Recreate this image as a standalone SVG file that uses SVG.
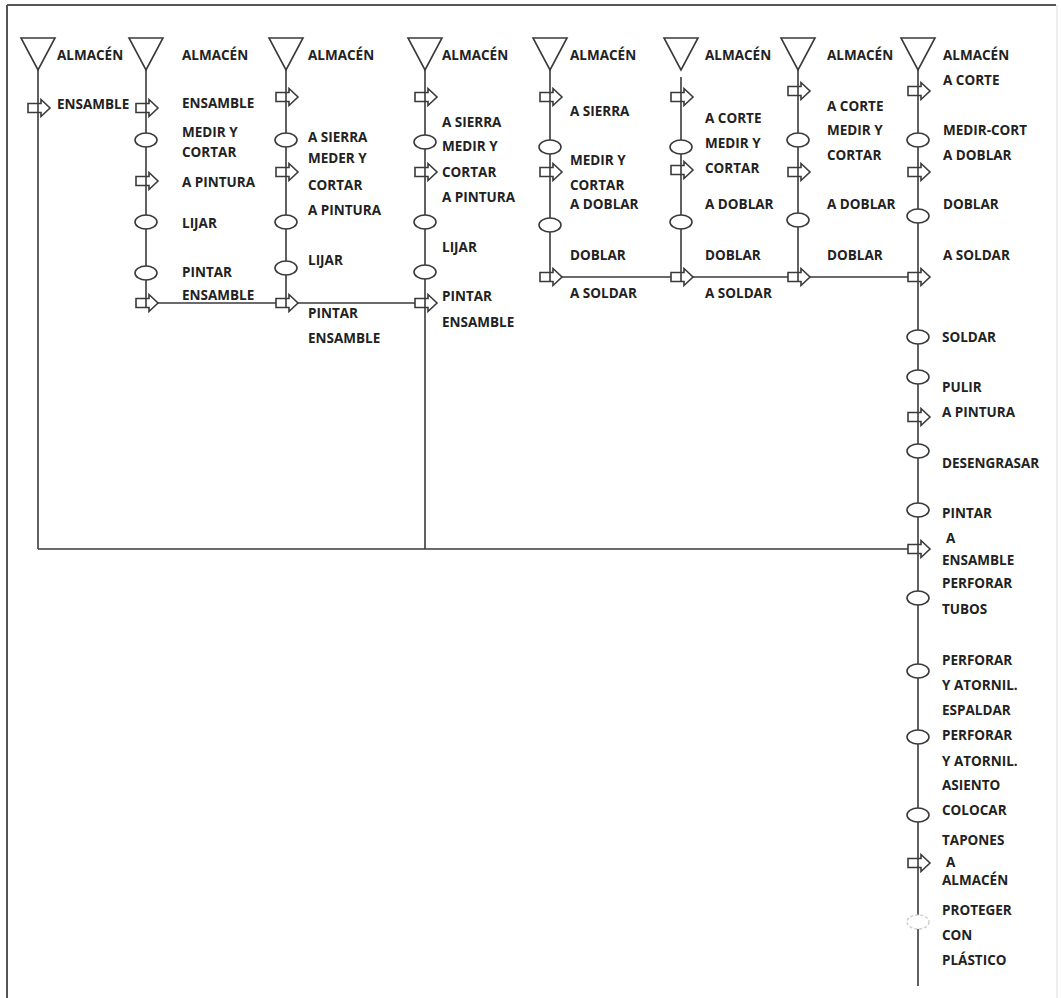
<svg xmlns="http://www.w3.org/2000/svg" width="1061" height="998" viewBox="0 0 1061 998">
  <defs>
    <style>
      .ln { stroke: #3a3a3a; stroke-width: 1.6; fill: none; }
      .sh { stroke: #3a3a3a; stroke-width: 1.6; fill: #fff; }
      .op { stroke: #3a3a3a; stroke-width: 1.6; fill: none; }
      .t { font-family: "Open Sans", "DejaVu Sans", sans-serif; font-weight: 700; font-size: 13.5px; fill: #222; }
    </style>
    <!-- storage: inverted triangle, apex at origin -->
    <path id="store" d="M-17,-32 H17 L0,0 Z"/>
    <!-- transport: block arrow centred on the flow line -->
    <path id="move" d="M-10,-4.5 H3 V-8.5 L12,0 L3,8.5 V4.5 H-10 Z"/>
    <!-- operation -->
    <ellipse id="op" cx="0" cy="0" rx="11" ry="7"/>
  </defs>

  <rect width="1061" height="998" fill="#fff"/>

  <!-- frame -->
  <g id="frame">
    <line x1="7" y1="5" x2="1056" y2="5" stroke="#555" stroke-width="2"/>
    <line x1="7" y1="5" x2="7" y2="998" stroke="#555" stroke-width="2"/>
    <line x1="1057" y1="5" x2="1057" y2="998" stroke="#ddd" stroke-width="1"/>
  </g>

  <!-- flow lines -->
  <g id="connectors" class="ln">
    <!-- verticals -->
    <line x1="38" y1="70" x2="38" y2="549"/>
    <line x1="146" y1="70" x2="146" y2="308"/>
    <line x1="286" y1="70" x2="286" y2="308"/>
    <line x1="425" y1="70" x2="425" y2="549"/>
    <line x1="550" y1="70" x2="550" y2="282"/>
    <line x1="681" y1="77" x2="681" y2="282"/>
    <line x1="798" y1="70" x2="798" y2="282"/>
    <line x1="918" y1="70" x2="918" y2="986"/>
    <!-- joins -->
    <line x1="158" y1="303" x2="276" y2="303"/>
    <line x1="298" y1="303" x2="415" y2="303"/>
    <line x1="562" y1="277" x2="671" y2="277"/>
    <line x1="693" y1="277" x2="788" y2="277"/>
    <line x1="810" y1="277" x2="908" y2="277"/>
    <line x1="38" y1="549" x2="908" y2="549"/>
  </g>

  <!-- column 1 -->
  <g id="col1">
    <g id="c1-store"><use href="#store" x="38" y="70" class="sh"/><text class="t" x="57" y="60">ALMACÉN</text></g>
    <g id="c1-m1"><use href="#move" x="38" y="108" class="op"/><text class="t" x="57" y="109">ENSAMBLE</text></g>
  </g>

  <!-- column 2 -->
  <g id="col2">
    <g id="c2-store"><use href="#store" x="146" y="70" class="sh"/><text class="t" x="182" y="60">ALMACÉN</text></g>
    <g id="c2-m1"><use href="#move" x="146" y="108" class="op"/><text class="t" x="182" y="108">ENSAMBLE</text></g>
    <g id="c2-o1"><use href="#op" x="146" y="140" class="sh"/><text class="t" x="182" y="137">MEDIR Y</text><text class="t" x="182" y="157">CORTAR</text></g>
    <g id="c2-m2"><use href="#move" x="146" y="181" class="op"/><text class="t" x="182" y="187">A PINTURA</text></g>
    <g id="c2-o2"><use href="#op" x="146" y="222" class="sh"/><text class="t" x="182" y="228">LIJAR</text></g>
    <g id="c2-o3"><use href="#op" x="146" y="273" class="sh"/><text class="t" x="182" y="277">PINTAR</text></g>
    <g id="c2-m3"><use href="#move" x="146" y="303" class="op"/><text class="t" x="182" y="300">ENSAMBLE</text></g>
  </g>

  <!-- column 3 -->
  <g id="col3">
    <g id="c3-store"><use href="#store" x="286" y="70" class="sh"/><text class="t" x="308" y="60">ALMACÉN</text></g>
    <g id="c3-m1"><use href="#move" x="286" y="97" class="op"/></g>
    <g id="c3-o1"><use href="#op" x="286" y="140" class="sh"/><text class="t" x="308" y="142">A SIERRA</text><text class="t" x="308" y="163">MEDER Y</text></g>
    <g id="c3-m2"><use href="#move" x="286" y="172" class="op"/><text class="t" x="308" y="190">CORTAR</text><text class="t" x="308" y="215">A PINTURA</text></g>
    <g id="c3-o2"><use href="#op" x="286" y="222" class="sh"/><text class="t" x="308" y="265">LIJAR</text></g>
    <g id="c3-o3"><use href="#op" x="286" y="268" class="sh"/></g>
    <g id="c3-m3"><use href="#move" x="286" y="303" class="op"/><text class="t" x="308" y="318">PINTAR</text><text class="t" x="308" y="343">ENSAMBLE</text></g>
  </g>

  <!-- column 4 -->
  <g id="col4">
    <g id="c4-store"><use href="#store" x="425" y="70" class="sh"/><text class="t" x="442" y="60">ALMACÉN</text></g>
    <g id="c4-m1"><use href="#move" x="425" y="97" class="op"/><text class="t" x="442" y="127">A SIERRA</text></g>
    <g id="c4-o1"><use href="#op" x="425" y="142" class="sh"/><text class="t" x="442" y="151">MEDIR Y</text></g>
    <g id="c4-m2"><use href="#move" x="425" y="172" class="op"/><text class="t" x="442" y="177">CORTAR</text><text class="t" x="442" y="202">A PINTURA</text></g>
    <g id="c4-o2"><use href="#op" x="425" y="222" class="sh"/><text class="t" x="442" y="252">LIJAR</text></g>
    <g id="c4-o3"><use href="#op" x="425" y="272" class="sh"/></g>
    <g id="c4-m3"><use href="#move" x="425" y="303" class="op"/><text class="t" x="442" y="301">PINTAR</text><text class="t" x="442" y="327">ENSAMBLE</text></g>
  </g>

  <!-- column 5 -->
  <g id="col5">
    <g id="c5-store"><use href="#store" x="550" y="70" class="sh"/><text class="t" x="570" y="60">ALMACÉN</text></g>
    <g id="c5-m1"><use href="#move" x="550" y="97" class="op"/><text class="t" x="570" y="116">A SIERRA</text></g>
    <g id="c5-o1"><use href="#op" x="550" y="147" class="sh"/><text class="t" x="570" y="165">MEDIR Y</text></g>
    <g id="c5-m2"><use href="#move" x="550" y="172" class="op"/><text class="t" x="570" y="190">CORTAR</text><text class="t" x="570" y="209">A DOBLAR</text></g>
    <g id="c5-o2"><use href="#op" x="550" y="225" class="sh"/><text class="t" x="570" y="260">DOBLAR</text></g>
    <g id="c5-m3"><use href="#move" x="550" y="277" class="op"/><text class="t" x="570" y="298">A SOLDAR</text></g>
  </g>

  <!-- column 6 -->
  <g id="col6">
    <g id="c6-store"><use href="#store" x="681" y="70" class="sh"/><text class="t" x="705" y="60">ALMACÉN</text></g>
    <g id="c6-m1"><use href="#move" x="681" y="97" class="op"/><text class="t" x="705" y="123">A CORTE</text></g>
    <g id="c6-o1"><use href="#op" x="681" y="147" class="sh"/><text class="t" x="705" y="148">MEDIR Y</text></g>
    <g id="c6-m2"><use href="#move" x="681" y="170" class="op"/><text class="t" x="705" y="173">CORTAR</text><text class="t" x="705" y="209">A DOBLAR</text></g>
    <g id="c6-o2"><use href="#op" x="681" y="222" class="sh"/><text class="t" x="705" y="260">DOBLAR</text></g>
    <g id="c6-m3"><use href="#move" x="681" y="277" class="op"/><text class="t" x="705" y="298">A SOLDAR</text></g>
  </g>

  <!-- column 7 -->
  <g id="col7">
    <g id="c7-store"><use href="#store" x="798" y="70" class="sh"/><text class="t" x="827" y="60">ALMACÉN</text></g>
    <g id="c7-m1"><use href="#move" x="798" y="91" class="op"/><text class="t" x="827" y="111">A CORTE</text></g>
    <g id="c7-o1"><use href="#op" x="798" y="140" class="sh"/><text class="t" x="827" y="135">MEDIR  Y</text><text class="t" x="827" y="160">CORTAR</text></g>
    <g id="c7-m2"><use href="#move" x="798" y="172" class="op"/><text class="t" x="827" y="209">A DOBLAR</text></g>
    <g id="c7-o2"><use href="#op" x="798" y="220" class="sh"/><text class="t" x="827" y="260">DOBLAR</text></g>
    <g id="c7-m3"><use href="#move" x="798" y="277" class="op"/></g>
  </g>

  <!-- column 8: main line -->
  <g id="col8">
    <g id="c8-store"><use href="#store" x="918" y="70" class="sh"/><text class="t" x="943" y="60">ALMACÉN</text><text class="t" x="943" y="85">A CORTE</text></g>
    <g id="c8-m1"><use href="#move" x="918" y="91" class="op"/></g>
    <g id="c8-o1"><use href="#op" x="918" y="140" class="sh"/><text class="t" x="943" y="135">MEDIR-CORT</text><text class="t" x="943" y="160">A DOBLAR</text></g>
    <g id="c8-m2"><use href="#move" x="918" y="172" class="op"/><text class="t" x="943" y="209">DOBLAR</text></g>
    <g id="c8-o2"><use href="#op" x="918" y="216" class="sh"/><text class="t" x="943" y="260">A SOLDAR</text></g>
    <g id="c8-m3"><use href="#move" x="918" y="277" class="op"/></g>
    <g id="c8-o3"><use href="#op" x="918" y="337" class="sh"/><text class="t" x="942" y="342">SOLDAR</text></g>
    <g id="c8-o4"><use href="#op" x="918" y="377" class="sh"/><text class="t" x="942" y="392">PULIR</text></g>
    <g id="c8-m4"><use href="#move" x="918" y="417" class="op"/><text class="t" x="942" y="417">A PINTURA</text></g>
    <g id="c8-o5"><use href="#op" x="918" y="451" class="sh"/><text class="t" x="942" y="468">DESENGRASAR</text></g>
    <g id="c8-o6"><use href="#op" x="918" y="510" class="sh"/><text class="t" x="942" y="518">PINTAR</text></g>
    <g id="c8-m5"><use href="#move" x="918" y="549" class="op"/><text class="t" x="946" y="543">A</text><text class="t" x="942" y="565">ENSAMBLE</text></g>
    <g id="c8-o7"><use href="#op" x="918" y="598" class="sh"/><text class="t" x="942" y="588">PERFORAR</text><text class="t" x="942" y="614">TUBOS</text></g>
    <g id="c8-o8"><use href="#op" x="918" y="671" class="sh"/><text class="t" x="942" y="665">PERFORAR</text><text class="t" x="942" y="690">Y  ATORNIL.</text><text class="t" x="942" y="715">ESPALDAR</text></g>
    <g id="c8-o9"><use href="#op" x="918" y="737" class="sh"/><text class="t" x="942" y="740">PERFORAR</text><text class="t" x="942" y="766">Y ATORNIL.</text><text class="t" x="942" y="790">ASIENTO</text></g>
    <g id="c8-o10"><use href="#op" x="918" y="815" class="sh"/><text class="t" x="942" y="815">COLOCAR</text><text class="t" x="942" y="845">TAPONES</text></g>
    <g id="c8-m6"><use href="#move" x="918" y="863" class="op"/><text class="t" x="946" y="867">A</text><text class="t" x="942" y="885">ALMACÉN</text></g>
    <g id="c8-o11"><use href="#op" x="918" y="922" fill="#fff" stroke="#ccc" stroke-width="1.4" stroke-dasharray="3 2"/><text class="t" x="942" y="915">PROTEGER</text><text class="t" x="942" y="940">CON</text><text class="t" x="942" y="965">PLÁSTICO</text></g>
  </g>
</svg>
